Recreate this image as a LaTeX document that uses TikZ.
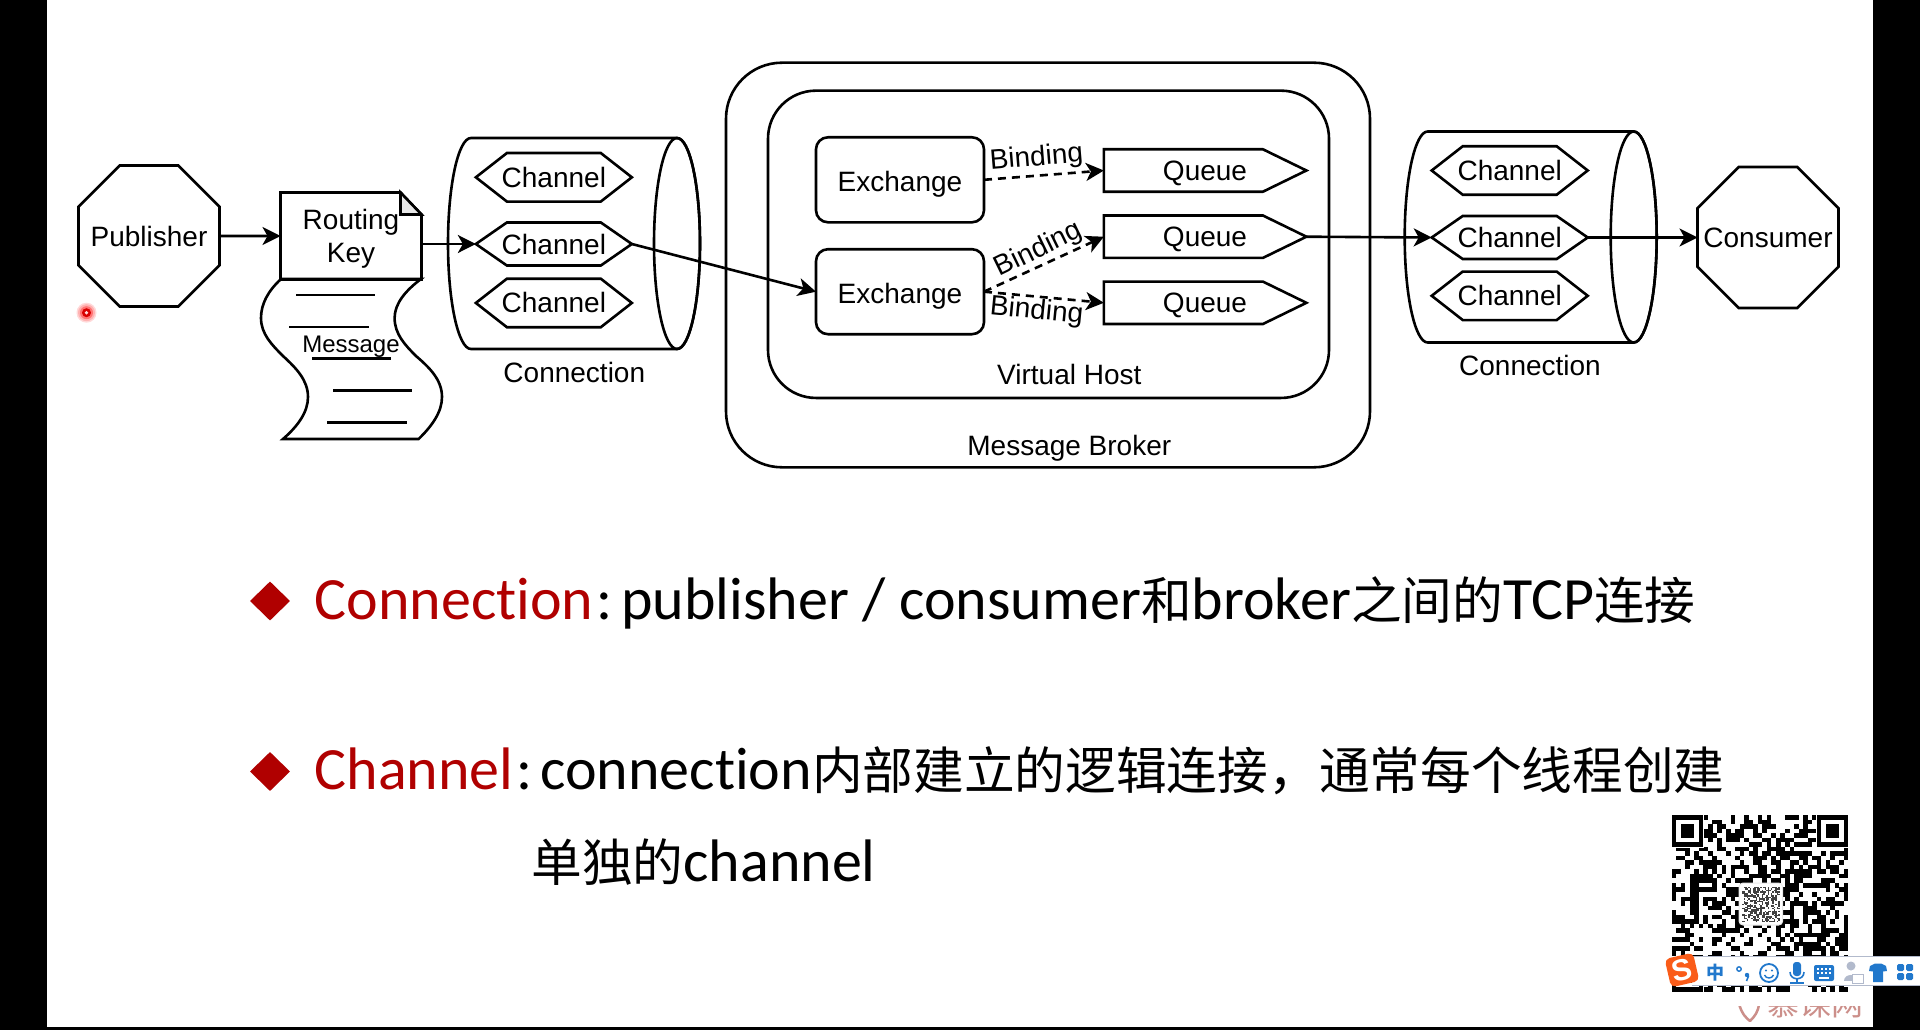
\documentclass[tikz,border=0pt]{standalone}
\usepackage{fontspec}
\setmainfont{Liberation Sans}
\newfontfamily\bodyfont[Ligatures=NoCommon]{Carlito}
\newfontfamily\zhfont[Scale=0.845]{Noto Sans CJK SC}
\newfontfamily\barfont{Noto Sans CJK SC}
\newcommand{\zh}[1]{{\zhfont #1}}
\newcommand{\chname}{\makebox[93pt]{Channel}}
\newcommand{\quname}{\hspace*{43.2pt}Queue}
\newcommand{\exname}{\raisebox{-1.5pt}[\height][\depth]{Exchange}}
\newcommand{\drawconn}[1]{
	\draw ([xshift=23pt]#1.north west)--([xshift=-23pt]#1.north east) arc (90:-90:23pt and 105.5pt)--([xshift=23pt]#1.south west) arc (270:90:23pt and 105.5pt)--cycle;
	\draw ([xshift=-23pt]#1.east) ellipse (23pt and 105.5pt);
}
\usetikzlibrary{arrows.meta, shapes.geometric, shapes.symbols}
\definecolor{accent}{rgb}{0.69, 0, 0}
\definecolor{foldgray}{rgb}{0.91, 0.91, 0.91}
\definecolor{barblue}{rgb}{0.13, 0.47, 0.8}
\definecolor{barline}{rgb}{0.7, 0.73, 0.8}
\definecolor{logoorange}{rgb}{0.98, 0.36, 0.1}
\definecolor{markred}{rgb}{0.8, 0.56, 0.54}
\tikzstyle{octagon} = [draw,regular polygon,regular polygon sides=8,inner sep=0pt,outer sep=0pt,minimum size=152.6pt]
\tikzstyle{conn} = [inner sep=0pt,outer sep=0pt,minimum width=252pt,minimum height=211pt]
\tikzstyle{chan} = [draw,signal,signal to=west and east,signal pointer angle=76,inner sep=0pt,outer sep=0pt,minimum width=156pt,minimum height=48.5pt]
\tikzstyle{chanmid} = [chan,signal pointer angle=69.5,minimum height=43pt]
\tikzstyle{queue} = [draw,signal,signal to=east,signal pointer angle=52,inner sep=0pt,outer sep=0pt,minimum width=202.5pt,minimum height=42.4pt,text depth=0pt]
\tikzstyle{exch} = [draw,rectangle,rounded corners=12pt,outer sep=0pt,minimum width=168pt,minimum height=85pt,text depth=0pt]
\tikzstyle{frame} = [draw,rectangle,outer sep=0pt]
\tikzstyle{arrow} = [-{Stealth[length=18pt,width=18pt,inset=5pt]}]
\tikzstyle{bind} = [arrow,dash pattern=on 8pt off 6pt]
\tikzstyle{body} = [anchor=base west,inner sep=0pt,font=\bodyfont\fontsize{60}{60}\selectfont]
\tikzstyle{bullet} = [diamond,fill=accent,inner sep=0pt,minimum width=41pt,minimum height=40pt]
\begin{document}
\begin{tikzpicture}[x=1pt,y=-1pt,line width=2.6pt,every node/.style={font=\fontsize{28}{33}\selectfont}]
		\useasboundingbox (0,0) rectangle (1920,1030);
		\fill[white] (0,0) rectangle (1920,1030);
		\fill[black] (0,0) rectangle (46.5,1030);
		\fill[black] (1873,0) rectangle (1920,1030);
		\fill[black] (0,1027) rectangle (1920,1030);
		
		\node [octagon](pub) at (149,236){\makebox[0pt]{Publisher}};
		\node [octagon](cons) at (1768,237.5){\makebox[0pt]{Consumer}};
		
		\draw[fill=white] (281,279) .. controls (268,291) and (261,304) .. (261,318) .. controls (261,334) and (272,345) .. (283,356) .. controls (296,368) and (308,380) .. (308,397) .. controls (308,412) and (298,426) .. (283,439) -- (418.6,439) .. controls (432,426) and (442,412) .. (442,397) .. controls (442,380) and (430,368) .. (416,356) .. controls (405,345) and (394.6,334) .. (394.6,318) .. controls (394.6,304) and (405,291) .. (421,279) -- cycle;
		\draw (296,295)--(375,295);
		\draw (289,327)--(369,327);
		\draw (312,358.7)--(391,358.7);
		\draw (333,390.7)--(412,390.7);
		\draw (327,422.3)--(407,422.3);
		\node [font=\fontsize{24}{28}\selectfont,text depth=0pt](msg) at (351,344){Message};
		
		\node [minimum width=141pt,minimum height=87pt,outer sep=0pt,inner sep=0pt](key) at (351,236){\raisebox{-3.5pt}[\height][\depth]{\begin{tabular}{@{}c@{}}Routing\\Key\end{tabular}}};
		\draw (key.south west)--(key.north west)--([xshift=-21pt]key.north east)--([yshift=-22pt]key.north east)--(key.south east)--cycle;
		\draw[fill=foldgray] ([xshift=-21pt]key.north east)--([xshift=-21pt,yshift=-22pt]key.north east)--([yshift=-22pt]key.north east)--cycle;
		
		\node [conn](leftconn) at (574,243.5){};
		\drawconn{leftconn}
		\node [chan](la) at (553.85,177.3){\chname};
		\node [chanmid,below of=la,yshift=-38.25pt](lb){\chname};
		\node [chan,below of=lb,yshift=-30.5pt](lc){\chname};
		\node (leftlabel) at (574.3,372.7){Connection};
		
		\node [conn](rightconn) at (1530.7,237){};
		\drawconn{rightconn}
		\node [chan](ra) at (1509.7,170.5){\chname};
		\node [chanmid,below of=ra,yshift=-38.55pt](rb){\chname};
		\node [chan,below of=rb,yshift=-29.85pt](rc){\chname};
		\node (rightlabel) at (1530,365.7){Connection};
		
		\node [frame,rounded corners=56pt,minimum width=644pt,minimum height=404.6pt](broker) at (1048,265){};
		\node [frame,rounded corners=48pt,minimum width=561pt,minimum height=307.3pt](vhost) at (1048.5,244.3){};
		\node (brokerlabel) at (1069.3,448){Message Broker};
		\node (vhostlabel) at (1069.3,374){Virtual Host};
		
		\node [exch](exa) at (900,179.8){\exname};
		\node [exch,below of=exa,yshift=-83.45pt](exb){\exname};
		\node [queue](qa) at (1183.4,170.5){\quname};
		\node [queue,below of=qa,yshift=-37.75pt](qb){\quname};
		\node [queue,below of=qb,yshift=-37.65pt](qc){\quname};
		
		\draw[arrow](pub)--(key);
		\draw[arrow](key.east |- lb.west)--(lb.west);
		\draw[arrow](lb.east)--(exb.west);
		\draw[bind](exa.east)--(qa.west);
		\draw[bind](exb.east)--(qb.west);
		\draw[bind](exb.east)--(qc.west);
		\draw[arrow](qb.east)--(rb.west);
		\draw[arrow](rb.east)--(cons.west);
		
		\node [rotate=4.7](bindab) at (1036.5,158.3){Binding};
		\node [rotate=26](bindb) at (1038.5,250){Binding};
		\node [rotate=-5.6](bindc) at (1036.5,311.7){Binding};
		
		\node [bullet](dota) at (270,601){};
		\node [body,text=accent](terma) at (313.3,619.3){Connection};
		\node [body,anchor=base west](texta) at (terma.base east){:\kern9pt publisher / consumer\zh{和}broker\zh{之间的}TCP\zh{连接}};
		\node [bullet](dotb) at (270,771.5){};
		\node [body,text=accent](termb) at (313.3,789.3){Channel};
		\node [body,anchor=base west](textb) at (termb.base east){:\kern8pt connection\zh{内部建立的逻辑连接，通常每个线程创建}};
		\node [body](textc) at (530,881){\zh{单独的}channel};
		
		\fill[red!15] (86.5,312.7) circle (10);
		\fill[red!30] (86.5,312.7) circle (8.5);
		\fill[red!55] (86.5,312.7) circle (6.5);
		\fill[red!85!black] (86.5,312.7) circle (4.5);
		\fill[red!15] (86.5,312.7) circle (1.8);
		
		\pgfmathsetseed{31}
		\foreach \i in {0,...,38}
			\foreach \j in {0,...,38}{
				\pgfmathparse{rnd>0.48?1:0}
				\ifnum\pgfmathresult=1
					\fill[black] (1671.7+\i*4.53,815+\j*4.53) rectangle ++(4.6,4.6);
				\fi
			}
		\foreach \cx/\cy in {1671.7/815,1816.7/815,1671.7/960}{
			\fill[white] (\cx-1,\cy-1) rectangle ++(33.6,33.6);
			\fill[black] (\cx,\cy) rectangle ++(31.7,31.7);
			\fill[white] (\cx+4.5,\cy+4.5) rectangle ++(22.7,22.7);
			\fill[black] (\cx+9,\cy+9) rectangle ++(13.7,13.7);
		}
		\fill[white,draw=foldgray,line width=1pt,rounded corners=4pt] (1739,883) rectangle (1782.7,925);
		\foreach \i in {0,...,24}
			\foreach \j in {0,...,24}{
				\pgfmathparse{rnd>0.5?1:0}
				\ifnum\pgfmathresult=1
					\fill[black!75] (1742+\i*1.5,887+\j*1.4) rectangle ++(1.5,1.4);
				\fi
			}
		
		\begin{scope}
			\clip (1730,1006) rectangle (1873,1021);
			\node [text=markred,font=\barfont\fontsize{32}{32}\selectfont,inner sep=0pt](mark) at (1815,1003){慕课网};
			\draw[markred,line width=2.5pt] (1739,1004) .. controls (1742,1014) and (1746,1018) .. (1750,1021) .. controls (1755,1016) and (1758,1012) .. (1759,1004);
		\end{scope}
		
		\fill[white] (1692,956.7) rectangle (1920,985.7);
		\draw[barline,line width=1pt] (1692,956.7)--(1920,956.7);
		\draw[barline,line width=1pt] (1692,985.7)--(1920,985.7);
		\node [rotate=13,fill=logoorange,rounded corners=5pt,minimum size=29pt,inner sep=0pt,text=white,font=\bfseries\fontsize{30}{30}\selectfont](logo) at (1682,970){S};
		\node [text=barblue,font=\barfont\bfseries\fontsize{18}{18}\selectfont,inner sep=0pt](zhong) at (1715,972.7){中};
		\draw[barblue,line width=1.4pt] (1739,969) circle (2.2);
		\fill[barblue] (1747,975) circle (2.2);
		\draw[barblue,line width=1.6pt] (1748.5,976)--(1746.5,981);
		\draw[barblue,line width=1.8pt] (1769,973) circle (9);
		\fill[barblue] (1766,970.5) circle (1.2);
		\fill[barblue] (1772,970.5) circle (1.2);
		\draw[barblue,line width=1.4pt] (1764.5,975) .. controls (1766,979) and (1772,979) .. (1773.5,975);
		\fill[barblue,rounded corners=3pt] (1793,962) rectangle (1801,976);
		\draw[barblue,line width=1.6pt] (1790,972) .. controls (1790,981) and (1804,981) .. (1804,972);
		\draw[barblue,line width=1.8pt] (1797,979)--(1797,983);
		\draw[barblue,line width=1.8pt] (1790,983)--(1804,983);
		\fill[barblue,rounded corners=2pt] (1814,965) rectangle (1834,981);
		\foreach \i in {0,...,3}{
			\fill[white] (1816.5+\i*4,968) rectangle ++(2.5,2.2);
			\fill[white] (1816.5+\i*4,972) rectangle ++(2.5,2.2);
		}
		\fill[white] (1819,976.5) rectangle (1829,978.5);
		\fill[barline] (1851,966) circle (4.5);
		\fill[barline] (1844,981) .. controls (1844,973) and (1858,973) .. (1858,981) -- cycle;
		\fill[white] (1852,974) rectangle (1864,984);
		\draw[barline,line width=1pt] (1852.5,974.5) rectangle (1863,983.5);
		\fill[barblue] (1870,966) -- (1875,963.5) -- (1881,963.5) -- (1886,966) -- (1887,971) -- (1883,971.5) -- (1883,982) -- (1873,982) -- (1873,971.5) -- (1869,971) -- cycle;
		\fill[barblue,rounded corners=1.5pt] (1897,964) rectangle (1904,971);
		\fill[barblue,rounded corners=1.5pt] (1906,964) rectangle (1913,971);
		\fill[barblue,rounded corners=1.5pt] (1897,973) rectangle (1904,980);
		\fill[barblue,rounded corners=1.5pt] (1906,973) rectangle (1913,980);
		\end{tikzpicture}
\end{document}
